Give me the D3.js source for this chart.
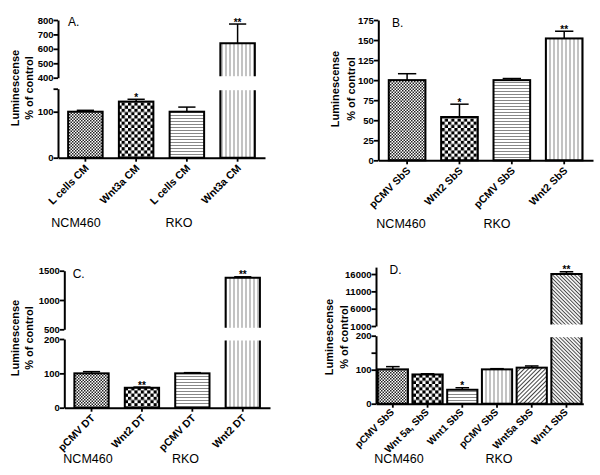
<!DOCTYPE html>
<html>
<head>
<meta charset="utf-8">
<script src="https://cdn.jsdelivr.net/npm/d3@7"></script>
<style>
  body { margin: 0; background: #fff; }
  text { font-family: Arial, "Liberation Sans", sans-serif; }
</style>
</head>
<body>
<div id="chart"></div>
<script>
// ---- data ----
const groups = ["NCM460", "RKO"];
const yTitle = ["Luminescense", "% of control"];

// A.
const aLabels = ["L cells CM", "Wnt3a CM", "L cells CM", "Wnt3a CM"];
const aValues = [100, 122, 100, 638];
const aErrors = [103, 127, 110, 772];
const aStars = ["", "*", "", "**"];
const aLowTicks = [0, 100, 150];
const aLowTickLabels = ["0", "100", ""];
const aHighTicks = [400, 500, 600, 700, 800];

// B.
const bLabels = ["pCMV SbS", "Wnt2 SbS", "pCMV SbS", "Wnt2 SbS"];
const bValues = [100, 54, 100, 152];
const bErrors = [108, 70, 102, 161];
const bStars = ["", "*", "", "**"];
const bTicks = [0, 25, 50, 75, 100, 125, 150, 175];

// C.
const cLabels = ["pCMV DT", "Wnt2 DT", "pCMV DT", "Wnt2 DT"];
const cValues = [100, 58, 100, 1381];
const cErrors = [105, 60, 102, 1396];
const cStars = ["", "**", "", "**"];
const cLowTicks = [0, 100, 200];
const cHighTicks = [500, 1000, 1500];

// D.
const dLabels = ["pCMV SbS", "Wnt 5a, SbS", "Wnt1 SbS", "pCMV SbS", "Wnt5a SbS", "Wnt1 SbS"];
const dValues = [101, 86, 41, 101, 106, 16000];
const dErrors = [109, 88, 47, 103, 111, 16650];
const dStars = ["", "", "*", "", "", "**"];
const dLowTicks = [0, 100, 150, 200];
const dLowTickLabels = ["0", "100", "", "200"];
const dHighTicks = [1000, 6000, 11000, 16000];

const svg = d3.select("#chart").append("svg")
    .attr("width", 600)
    .attr("height", 475);

// hatch / checker fills
const defs = svg.append("defs");

function checker(id, size, color) {
    const p = defs.append("pattern").attr("id", id)
        .attr("patternUnits", "userSpaceOnUse")
        .attr("width", size * 2).attr("height", size * 2);
    p.append("rect").attr("width", size * 2).attr("height", size * 2).attr("fill", "#fff");
    p.append("rect").attr("width", size).attr("height", size).attr("fill", color);
    p.append("rect").attr("x", size).attr("y", size).attr("width", size).attr("height", size).attr("fill", color);
}
function lines(id, gap, angle, color) {
    const p = defs.append("pattern").attr("id", id)
        .attr("patternUnits", "userSpaceOnUse")
        .attr("width", gap).attr("height", gap)
        .attr("patternTransform", `rotate(${angle})`);
    p.append("rect").attr("width", gap).attr("height", gap).attr("fill", "#fff");
    p.append("line").attr("x1", 0).attr("x2", gap).attr("y1", gap / 2).attr("y2", gap / 2)
        .attr("stroke", color).attr("stroke-width", 1);
}
checker("fine", 1.5, "#222");
checker("coarse", 3.2, "#000");
lines("horiz", 3, 0, "#888");
lines("vert", 4, 90, "#888");
lines("fwd", 3, -45, "#444");
lines("back", 2.6, 45, "#444");

const font = "Arial, 'Liberation Sans', sans-serif";

function drawPanel(cfg, d) {
    const g = svg.append("g");
    const n = d.labels.length;

    const x = d3.scaleBand()
        .domain(d3.range(n))
        .range([cfg.x0, cfg.x1])
        .paddingInner(cfg.padIn)
        .paddingOuter(cfg.padOut);

    const yLow = d3.scaleLinear().domain(cfg.lowDomain).range(cfg.lowRange);
    const yHigh = cfg.highDomain ? d3.scaleLinear().domain(cfg.highDomain).range(cfg.highRange) : null;
    const broken = v => yHigh && v > cfg.lowDomain[1];
    const yOf = v => broken(v) ? yHigh(v) : yLow(v);

    // bars
    d.values.forEach((v, i) => {
        const bx = x(i), bw = x.bandwidth();
        const fill = `url(#${d.fills[i]})`;
        if (!broken(v)) {
            g.append("rect")
                .attr("x", bx).attr("y", yLow(v))
                .attr("width", bw).attr("height", yLow(0) - yLow(v))
                .attr("fill", fill).attr("stroke", "#000").attr("stroke-width", 2);
        } else {
            const lowTop = yLow(cfg.lowDomain[1]), highBot = yHigh(cfg.highDomain[0]);
            g.append("rect").attr("x", bx).attr("y", lowTop + 1.5)
                .attr("width", bw).attr("height", yLow(0) - lowTop - 1.5).attr("fill", fill);
            g.append("rect").attr("x", bx).attr("y", yHigh(v))
                .attr("width", bw).attr("height", highBot - yHigh(v) - 1.5).attr("fill", fill);
            g.append("path")
                .attr("d", `M${bx},${lowTop + 1.5}V${yLow(0)}H${bx + bw}V${lowTop + 1.5}`)
                .attr("fill", "none").attr("stroke", "#000").attr("stroke-width", 2);
            g.append("path")
                .attr("d", `M${bx},${highBot - 1.5}V${yHigh(v)}H${bx + bw}V${highBot - 1.5}`)
                .attr("fill", "none").attr("stroke", "#000").attr("stroke-width", 2);
        }

        // error bar (upper side only)
        const cx = bx + bw / 2, cap = bw * cfg.cap / 2;
        g.append("line").attr("x1", cx).attr("x2", cx)
            .attr("y1", yOf(v)).attr("y2", yOf(d.errors[i]))
            .attr("stroke", "#000").attr("stroke-width", 1.5);
        g.append("line").attr("x1", cx - cap).attr("x2", cx + cap)
            .attr("y1", yOf(d.errors[i])).attr("y2", yOf(d.errors[i]))
            .attr("stroke", "#000").attr("stroke-width", 1.5);

        if (d.stars[i]) {
            g.append("text")
                .attr("x", cx).attr("y", yOf(d.errors[i]) + 1.5)
                .attr("text-anchor", "middle")
                .attr("font-size", 10).attr("font-weight", "bold")
                .text(d.stars[i]);
        }
    });

    // y axes
    function styleY(sel) {
        sel.select(".domain").attr("stroke-width", 2);
        sel.selectAll(".tick line").attr("stroke-width", 1.8);
        sel.selectAll(".tick text")
            .attr("font-size", cfg.yFont).attr("font-weight", "bold")
            .attr("font-family", font).attr("x", -4.5);
    }
    const lowAxis = d3.axisLeft(yLow)
        .tickValues(d.lowTicks)
        .tickFormat((v, i) => d.lowTickLabels ? d.lowTickLabels[i] : v)
        .tickSize(4.5).tickSizeOuter(0);
    g.append("g").attr("transform", `translate(${cfg.x0},0)`).call(lowAxis).call(styleY);

    if (yHigh) {
        const highAxis = d3.axisLeft(yHigh)
            .tickValues(d.highTicks)
            .tickFormat(d3.format("d"))
            .tickSize(4.5).tickSizeOuter(0);
        g.append("g").attr("transform", `translate(${cfg.x0},0)`).call(highAxis).call(styleY);
    }

    // x axis
    const xAxis = d3.axisBottom(x)
        .tickFormat(i => d.labels[i])
        .tickSize(4).tickSizeOuter(0);
    const xg = g.append("g").attr("transform", `translate(0,${yLow(0)})`).call(xAxis);
    xg.select(".domain").attr("stroke-width", 2);
    xg.selectAll(".tick line").attr("stroke-width", 1.8);
    xg.selectAll(".tick text")
        .attr("font-size", cfg.xFont).attr("font-weight", "bold").attr("font-family", font)
        .attr("text-anchor", "end")
        .attr("x", 0).attr("y", 0).attr("dy", 0)
        .attr("transform", `translate(${cfg.xShift[0]},${cfg.xShift[1]}) rotate(-45)`);

    // panel letter
    g.append("text").attr("x", cfg.letter[0]).attr("y", cfg.letter[1])
        .attr("font-size", 12).text(cfg.name);

    // y title
    yTitle.forEach((t, k) => {
        g.append("text")
            .attr("transform", `translate(${cfg.titleX[k]},${cfg.titleY}) rotate(-90)`)
            .attr("text-anchor", "middle")
            .attr("font-size", 11).attr("font-weight", "bold")
            .text(t);
    });

    // cell line labels
    groups.forEach((t, k) => {
        g.append("text").attr("x", cfg.groupX[k]).attr("y", cfg.groupY)
            .attr("text-anchor", "middle").attr("font-size", 12.5)
            .text(t);
    });
}

const fills4 = ["fine", "coarse", "horiz", "vert"];

drawPanel({
    name: "A.", x0: 58, x1: 265, padIn: 0.32, padOut: 0.2, cap: 0.5,
    lowDomain: [0, 150], lowRange: [157.7, 88.7],
    highDomain: [400, 800], highRange: [77.7, 20],
    yFont: 9.5, xFont: 10.5, xShift: [4, 11],
    letter: [68, 25.5], titleX: [19, 33], titleY: 88, groupX: [76, 179], groupY: 227
}, { labels: aLabels, values: aValues, errors: aErrors, stars: aStars, fills: fills4,
     lowTicks: aLowTicks, lowTickLabels: aLowTickLabels, highTicks: aHighTicks });

drawPanel({
    name: "B.", x0: 378.3, x1: 593, padIn: 0.3, padOut: 0.2, cap: 0.5,
    lowDomain: [0, 175], lowRange: [160.3, 20],
    yFont: 9.5, xFont: 10.5, xShift: [4, 11],
    letter: [392, 26.5], titleX: [339, 354.5], titleY: 89, groupX: [401, 497], groupY: 228
}, { labels: bLabels, values: bValues, errors: bErrors, stars: bStars, fills: fills4,
     lowTicks: bTicks });

drawPanel({
    name: "C.", x0: 64.3, x1: 270, padIn: 0.32, padOut: 0.2, cap: 0.5,
    lowDomain: [0, 200], lowRange: [407.7, 339],
    highDomain: [500, 1500], highRange: [329.3, 270.7],
    yFont: 9.5, xFont: 10.5, xShift: [4, 11],
    letter: [72.7, 278], titleX: [19, 33], titleY: 338, groupX: [88, 185.5], groupY: 463
}, { labels: cLabels, values: cValues, errors: cErrors, stars: cStars, fills: fills4,
     lowTicks: cLowTicks, highTicks: cHighTicks });

drawPanel({
    name: "D.", x0: 376, x1: 583.3, padIn: 0.13, padOut: 0.05, cap: 0.45,
    lowDomain: [0, 200], lowRange: [403.7, 335.7],
    highDomain: [1000, 18000], highRange: [326, 267.1],
    yFont: 9.5, xFont: 10, xShift: [2, 9],
    letter: [389.5, 274.3], titleX: [333.3, 348.3], titleY: 337, groupX: [399, 499], groupY: 463
}, { labels: dLabels, values: dValues, errors: dErrors, stars: dStars,
     fills: ["fine", "coarse", "horiz", "vert", "fwd", "back"],
     lowTicks: dLowTicks, lowTickLabels: dLowTickLabels, highTicks: dHighTicks });
</script>
</body>
</html>
